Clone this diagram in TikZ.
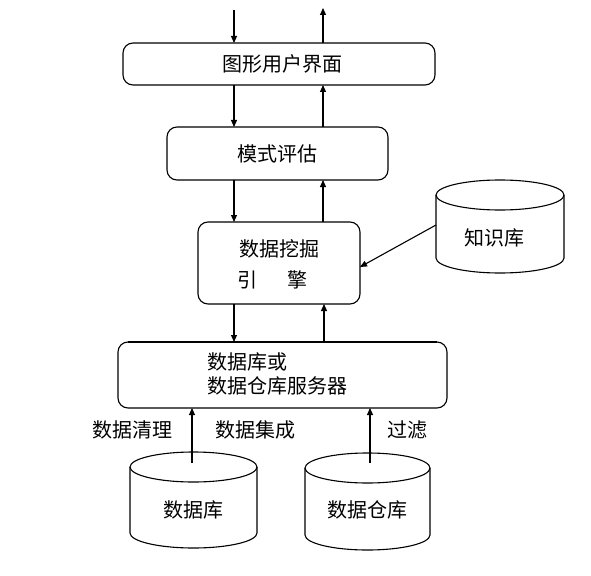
\documentclass[tikz,border=0pt]{standalone}
\usepackage{fontspec}
\setmainfont{Noto Sans CJK SC}
\usetikzlibrary{arrows.meta}
\tikzset{
  box/.style={draw, line width=1.1pt, rounded corners=10pt, inner sep=0pt},
  lbl/.style={font=\fontsize{20}{24}\selectfont, inner sep=0pt},
  arr/.style={line width=1.1pt, -{Triangle[length=7pt,width=6pt]}},
  cyl/.style={line width=1.1pt}
}
\begin{document}
\begin{tikzpicture}[x=1pt,y=-1pt]
\useasboundingbox (0,0) rectangle (591,575);
% boxes
\node[box, minimum width=312pt, minimum height=42pt] (gui) at (279,64) {};
\node[lbl] at (282,64) {图形用户界面};
\node[box, minimum width=221pt, minimum height=53pt] (pe) at (277.5,153.5) {};
\node[lbl] at (277,154) {模式评估};
\node[box, minimum width=162pt, minimum height=82pt] (dm) at (279,263) {};
\node[lbl] at (279,249) {数据挖掘};
\node[lbl] at (272,280) {引\hspace{1.5em}擎};
\node[box, minimum width=329pt, minimum height=66pt] (srv) at (282.5,375) {};
\draw[line width=2pt] (128,342) -- (437,342);
\node[lbl, anchor=west] at (207,362) {数据库或};
\node[lbl, anchor=west] at (207,386) {数据仓库服务器};
% knowledge base
\draw[cyl] (500,195) ellipse [x radius=64, y radius=15];
\draw[cyl] (436,195) -- (436,258) arc[start angle=180, end angle=0, x radius=64, y radius=15] -- (564,195);
\node[lbl] (kb) at (494,238) {知识库};
\coordinate (kbl) at (436,225);
% database
\draw[cyl] (193.5,467) ellipse [x radius=63.5, y radius=15];
\draw[cyl] (130,467) -- (130,533) arc[start angle=180, end angle=0, x radius=63.5, y radius=15] -- (257,467);
\node[lbl] (db) at (193,510) {数据库};
% warehouse
\draw[cyl] (367.5,468) ellipse [x radius=62.5, y radius=15];
\draw[cyl] (305,468) -- (305,535) arc[start angle=180, end angle=0, x radius=62.5, y radius=15] -- (430,468);
\node[lbl] (dw) at (367,510) {数据仓库};
% coordinates
\coordinate (in) at (234,10);
\coordinate (out) at (323,8);
\coordinate (dbtop) at (192,463);
\coordinate (dwtop) at (370,463);
% arrows
\draw[arr] (in) -- (234,43);
\draw[arr] (323,43) -- (out);
\draw[arr] (234,85) -- (234,127);
\draw[arr] (323,127) -- (323,85);
\draw[arr] (234,180) -- (234,222);
\draw[arr] (323,222) -- (323,180);
\draw[arr] (234,304) -- (234,342);
\draw[arr] (324,342) -- (324,304);
\draw[arr] (kbl) -- (360,267);
\draw[arr] (dbtop) -- (192,408);
\draw[arr] (dwtop) -- (370,408);
% labels
\node[lbl] at (132,430) {数据清理};
\node[lbl] at (255,430) {数据集成};
\node[lbl] at (407,430) {过滤};
\end{tikzpicture}
\end{document}
